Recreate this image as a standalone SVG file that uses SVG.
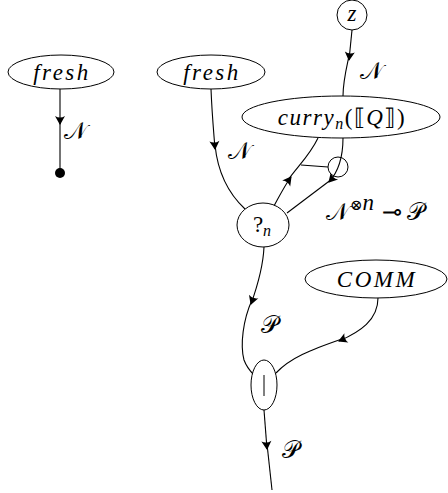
<svg xmlns="http://www.w3.org/2000/svg" width="448" height="493" viewBox="0 0 448 493">
<style>
.n{fill:#fff;stroke:#000;stroke-width:1}
.o{fill:none;stroke:#000;stroke-width:1}
.c{fill:none;stroke:#000;stroke-width:1.1}
.a{fill:none;stroke:#000;stroke-width:1.1;marker-end:url(#ah)}
.t{font-family:"Liberation Serif",serif;font-style:italic;font-size:23px;fill:#000}
.m{font-family:"DejaVu Serif","Liberation Serif",serif;font-size:24px;fill:#000}
</style>
<defs>
<marker id="ah" markerWidth="12" markerHeight="12" viewBox="-9 -6 12 12" refX="0" refY="0" orient="auto" markerUnits="userSpaceOnUse">
<path d="M1,0 L-8,-5 Q-5,0 -8,5 Z" fill="#000"/>
</marker>
</defs>
<g id="connectors">
<path class="a" d="M60,89 L60,124"/>
<path class="c" d="M60,122 L60,173"/>
<path class="a" d="M211,89 C212,115 214,135 215,149"/>
<path class="c" d="M215,145 C218,175 230,195 245,209"/>
<path class="a" d="M352,30 L349,60"/>
<path class="c" d="M349,56 C346,70 343,82 343,96"/>
<path class="a" d="M274,206 C280,195 285,185 291,177"/>
<path class="c" d="M288,180 C298,166 310,155 318,138"/>
<path class="c" d="M301,165 L328,167"/>
<path class="a" d="M343,138 C343,155 340,170 329,182"/>
<path class="c" d="M332,179 C315,192 300,203 287,213"/>
<path class="a" d="M264,247 C263,270 256,290 251,304"/>
<path class="c" d="M252,300 C243,320 240,345 244,360 C247,368 251,372 254,375"/>
<path class="a" d="M378,298 C378,320 360,332 339,341"/>
<path class="c" d="M342,339 C310,350 290,358 276,373"/>
<path class="a" d="M264,410 L267,449"/>
<path class="c" d="M267,444 L272,490"/>
</g>
<g id="fresh1"><ellipse class="n" cx="61" cy="72" rx="53" ry="17"/><text class="t" x="62" y="80" text-anchor="middle" letter-spacing="2.5">fresh</text></g>
<g id="dot"><circle cx="60" cy="173" r="5" fill="#000"/></g>
<g id="fresh2"><ellipse class="n" cx="211" cy="72" rx="54" ry="17"/><text class="t" x="212" y="80" text-anchor="middle" letter-spacing="2.5">fresh</text></g>
<g id="z"><circle class="n" cx="352" cy="15" r="15"/><text class="t" x="352" y="21" text-anchor="middle">z</text></g>
<g id="curry"><ellipse class="n" cx="341" cy="117" rx="99" ry="21"/><text class="t" x="342" y="125" text-anchor="middle" letter-spacing="1.5">curry<tspan font-size="16" dy="4">n</tspan><tspan font-style="normal" dy="-4">(⟦</tspan>Q<tspan font-style="normal">⟧)</tspan></text></g>
<g id="small"><circle class="o" cx="338" cy="167" r="10"/></g>
<g id="qn"><ellipse class="n" cx="263" cy="225" rx="26" ry="22"/><text class="t" x="262" y="232" text-anchor="middle"><tspan font-style="normal">?</tspan><tspan font-size="16" dy="4">n</tspan></text></g>
<g id="comm"><ellipse class="n" cx="376" cy="279" rx="71" ry="19"/><text class="t" x="377" y="287" text-anchor="middle" letter-spacing="2.5">COMM</text></g>
<g id="par"><ellipse class="n" cx="264" cy="385" rx="13" ry="25"/><line x1="264" y1="375" x2="264" y2="396" stroke="#000" stroke-width="1"/></g>
<g id="labels">
<text class="m" x="64" y="139">𝒩</text>
<text class="m" x="360" y="79">𝒩</text>
<text class="m" x="228" y="159">𝒩</text>
<text class="m" x="326" y="220">𝒩<tspan font-size="15" dy="-10" dx="1">⊗</tspan><tspan class="t" font-size="16">n</tspan><tspan dy="10" dx="8">⊸</tspan><tspan dx="5">𝒫</tspan></text>
<text class="m" x="261" y="333">𝒫</text>
<text class="m" x="282" y="458">𝒫</text>
</g>
</svg>
